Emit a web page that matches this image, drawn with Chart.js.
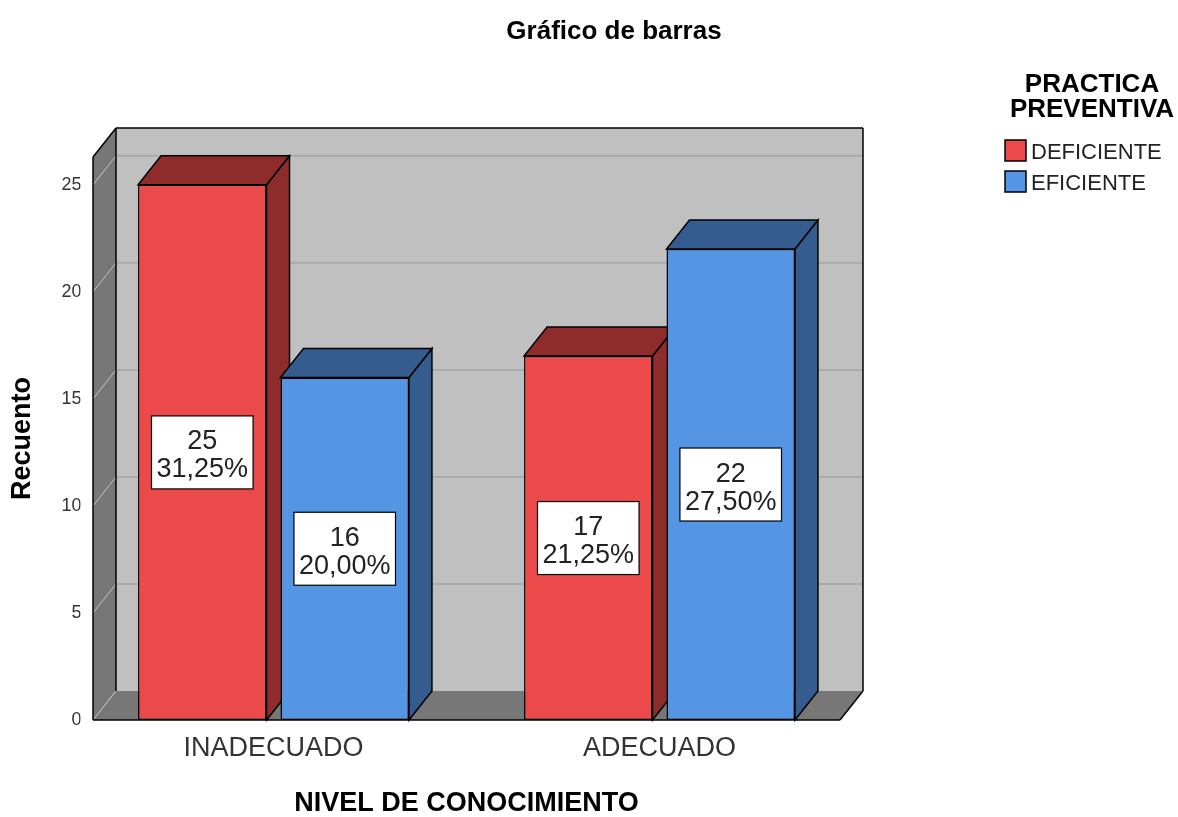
<!DOCTYPE html>
<html><head><meta charset="utf-8">
<script src="https://cdn.jsdelivr.net/npm/chart.js@4"></script>
<style>html,body{margin:0;padding:0;background:#fff}#wrap{width:1178px;height:817px}</style>
</head><body><div id="wrap"><canvas id="c" width="1178" height="817"></canvas></div>
<script>
const categories = ['INADECUADO', 'ADECUADO'];
const seriesNames = ['DEFICIENTE', 'EFICIENTE'];
const deficiente = [25, 17];
const eficiente = [16, 22];
const deficientePct = ['31,25%', '21,25%'];
const eficientePct = ['20,00%', '27,50%'];
const yTicks = [0, 5, 10, 15, 20, 25];
const yMax = 26.3;
const chartTitle = 'Gráfico de barras';
const legendTitle = ['PRACTICA', 'PREVENTIVA'];
const xTitle = 'NIVEL DE CONOCIMIENTO';
const yTitle = 'Recuento';

const FRONT = ['#EC4A4A', '#5495E4'];
const DARK = ['#8E2C2C', '#345C8E'];
const DX = 23, DY = -29, INSET = 12.5;
const FONT = '"Liberation Sans", Arial, sans-serif';

function poly(ctx, pts, fill, stroke, lw) {
  ctx.beginPath();
  ctx.moveTo(pts[0][0], pts[0][1]);
  for (let i = 1; i < pts.length; i++) ctx.lineTo(pts[i][0], pts[i][1]);
  ctx.closePath();
  if (fill) { ctx.fillStyle = fill; ctx.fill(); }
  if (stroke) { ctx.strokeStyle = stroke; ctx.lineWidth = lw || 1; ctx.stroke(); }
}
function line(ctx, x1, y1, x2, y2, c, w) {
  ctx.beginPath(); ctx.moveTo(x1, y1); ctx.lineTo(x2, y2);
  ctx.strokeStyle = c; ctx.lineWidth = w; ctx.stroke();
}

const wallsPlugin = {
  id: 'walls',
  beforeDatasetsDraw(chart) {
    const ctx = chart.ctx, ca = chart.chartArea, ys = chart.scales.y;
    const FL = ca.left + INSET, FR = ca.right - INSET;
    const yb = ys.getPixelForValue(0), yt = ys.getPixelForValue(yMax);
    ctx.save();
    poly(ctx, [[FL + DX, yt + DY], [FR + DX, yt + DY], [FR + DX, yb + DY], [FL + DX, yb + DY]], '#C0C0C0');
    poly(ctx, [[FL, yb], [FL, yt], [FL + DX, yt + DY], [FL + DX, yb + DY]], '#777777');
    poly(ctx, [[FL, yb], [FR, yb], [FR + DX, yb + DY], [FL + DX, yb + DY]], '#777777');
    yTicks.forEach(v => {
      const py = ys.getPixelForValue(v);
      if (v > 0) line(ctx, FL + DX, py + DY, FR + DX, py + DY, '#ababab', 2);
      line(ctx, FL, py, FL + DX, py + DY, '#c4c4c4', 1);
    });
    line(ctx, FL, yt, FL, yb, '#000', 1.5);
    line(ctx, FL, yt, FL + DX, yt + DY, '#000', 1.5);
    line(ctx, FL + DX, yt + DY, FR + DX, yt + DY, '#000', 1.5);
    line(ctx, FR + DX, yt + DY, FR + DX, yb + DY, '#000', 1.5);
    line(ctx, FL + DX, yt + DY, FL + DX, yb + DY, '#000', 1.5);
    line(ctx, FR, yb, FR + DX, yb + DY, '#000', 1.5);
    line(ctx, FL, yb, FR, yb, '#000', 1.5);
    const faces = [];
    chart.data.datasets.forEach((ds, di) => {
      const meta = chart.getDatasetMeta(di);
      meta.data.forEach(el => {
        const p = el.getProps(['x', 'y', 'base', 'width'], true);
        faces.push({ di, x1: p.x - p.width / 2, x2: p.x + p.width / 2, y: p.y, base: p.base });
      });
    });
    faces.sort((a, b) => a.x1 - b.x1);
    faces.forEach(f => {
      poly(ctx, [[f.x2, f.y], [f.x2 + DX, f.y + DY], [f.x2 + DX, f.base + DY], [f.x2, f.base]], DARK[f.di], '#000', 1.5);
      poly(ctx, [[f.x1, f.y], [f.x2, f.y], [f.x2 + DX, f.y + DY], [f.x1 + DX, f.y + DY]], DARK[f.di], '#000', 1.5);
    });
    ctx.restore();
  }
};

const labelsPlugin = {
  id: 'boxLabels',
  afterDatasetsDraw(chart) {
    const ctx = chart.ctx;
    const pcts = [deficientePct, eficientePct];
    ctx.save();
    ctx.font = '27px ' + FONT;
    ctx.textAlign = 'center';
    ctx.textBaseline = 'alphabetic';
    chart.data.datasets.forEach((ds, di) => {
      chart.getDatasetMeta(di).data.forEach((el, i) => {
        const p = el.getProps(['x', 'y', 'base'], true);
        const cy = (p.y + p.base) / 2;
        const l1 = String(ds.data[i]), l2 = pcts[di][i];
        const w = Math.max(ctx.measureText(l1).width, ctx.measureText(l2).width) + 10;
        const h = 73;
        ctx.fillStyle = '#fff';
        ctx.fillRect(p.x - w / 2, cy - h / 2, w, h);
        ctx.strokeStyle = '#000'; ctx.lineWidth = 1.2;
        ctx.strokeRect(p.x - w / 2, cy - h / 2, w, h);
        ctx.fillStyle = '#222';
        ctx.fillText(l1, p.x, cy - 3);
        ctx.fillText(l2, p.x, cy + 25);
      });
    });
    ctx.restore();
  }
};

const decorPlugin = {
  id: 'decor',
  afterDraw(chart) {
    const ctx = chart.ctx;
    ctx.save();
    ctx.fillStyle = '#000';
    ctx.textAlign = 'center';
    ctx.textBaseline = 'alphabetic';
    ctx.font = 'bold 26px ' + FONT;
    ctx.fillText(chartTitle, 614, 39);
    ctx.fillText(legendTitle[0], 1092, 92);
    ctx.fillText(legendTitle[1], 1092, 117);
    ctx.textAlign = 'left';
    ctx.font = '22px ' + FONT;
    seriesNames.forEach((n, i) => {
      const top = 140 + i * 31;
      ctx.fillStyle = FRONT[i];
      ctx.fillRect(1005, top, 21, 21);
      ctx.strokeStyle = '#000'; ctx.lineWidth = 1.5;
      ctx.strokeRect(1005, top, 21, 21);
      ctx.fillStyle = '#222';
      ctx.fillText(n, 1031, top + 19);
    });
    ctx.restore();
  }
};

new Chart(document.getElementById('c'), {
  type: 'bar',
  data: {
    labels: categories,
    datasets: [
      { label: seriesNames[0], data: deficiente, backgroundColor: FRONT[0] },
      { label: seriesNames[1], data: eficiente, backgroundColor: FRONT[1] }
    ]
  },
  options: {
    responsive: false,
    animation: false,
    devicePixelRatio: 1,
    layout: { padding: { top: 157, right: 325.5, bottom: 0, left: 0 } },
    datasets: {
      bar: {
        categoryPercentage: 0.738,
        barPercentage: 0.902,
        borderColor: '#000',
        borderWidth: 1.5,
        borderSkipped: false
      }
    },
    plugins: {
      legend: { display: false },
      title: { display: false },
      tooltip: { enabled: false }
    },
    scales: {
      x: {
        grid: { display: false, drawTicks: false },
        border: { display: false },
        ticks: { color: '#333', font: { family: FONT, size: 27 }, padding: 12 },
        title: { display: true, text: xTitle, color: '#000', font: { family: FONT, size: 27, weight: 'bold', lineHeight: 1 }, padding: { top: 0, bottom: 0 } },
        afterFit: s => { s.height = 97; }
      },
      y: {
        min: 0, max: yMax,
        grid: { display: false, drawTicks: false },
        border: { display: false },
        afterBuildTicks: s => { s.ticks = yTicks.map(v => ({ value: v })); },
        ticks: { color: '#333', font: { family: FONT, size: 18 }, padding: -1 },
        title: { display: true, text: yTitle, color: '#000', font: { family: FONT, size: 27, weight: 'bold', lineHeight: 1 }, padding: { top: 9.5, bottom: 0 } },
        afterFit: s => { s.width = 80.5; }
      }
    }
  },
  plugins: [wallsPlugin, labelsPlugin, decorPlugin]
});
</script>
</body></html>
